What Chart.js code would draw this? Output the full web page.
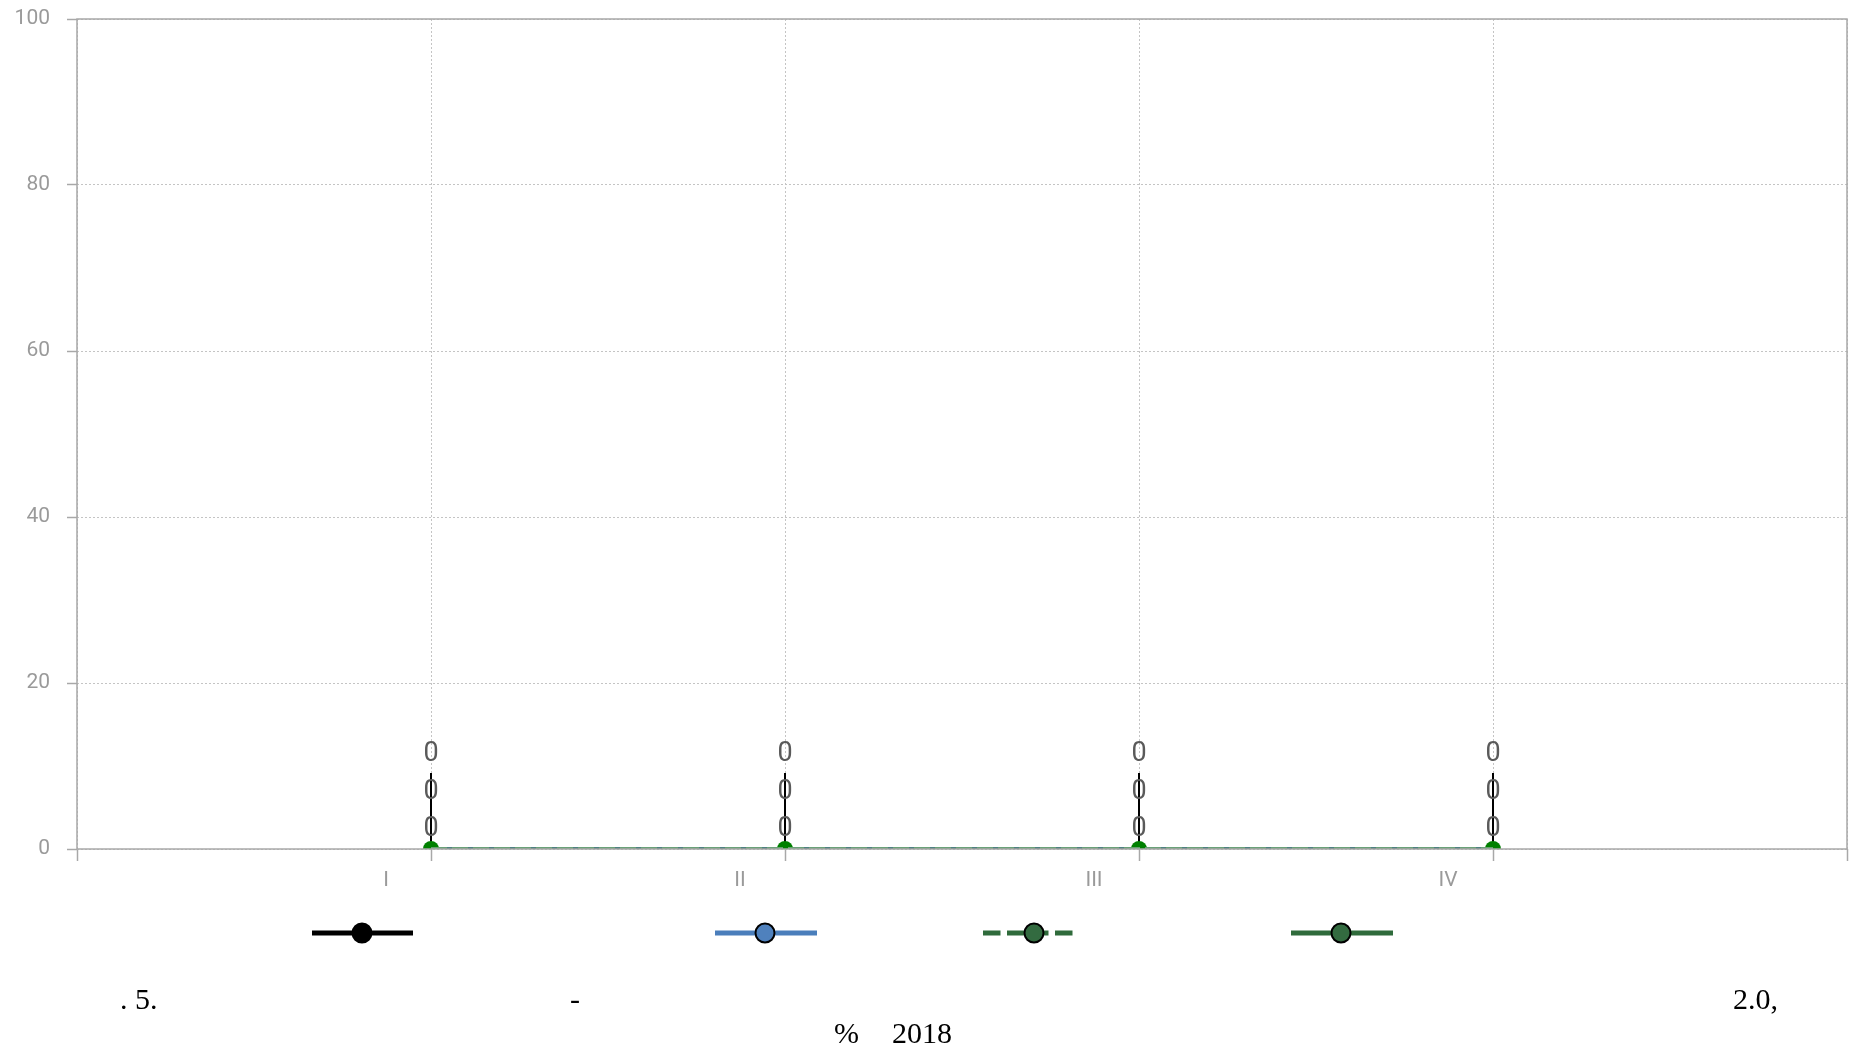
<!DOCTYPE html>
<html>
<head>
<meta charset="utf-8">
<script src="https://cdn.jsdelivr.net/npm/chart.js@4.4.1/dist/chart.umd.min.js"></script>
<style>
  html, body { margin: 0; padding: 0; background: #fff; }
  #wrap { position: relative; width: 1851px; height: 1052px; overflow: hidden; }
  canvas { position: absolute; left: 0; top: 0; }
  .cap { position: absolute; font-family: "Liberation Serif", "Times New Roman", serif; font-size: 30px; line-height: 30px; color: #000; white-space: pre; }
</style>
</head>
<body>
<div id="wrap">
  <canvas id="c" width="1851" height="1052"></canvas>
  <div class="cap" style="left:120px; top:984px;">. 5.</div>
  <div class="cap" style="left:570px; top:984px;">-</div>
  <div class="cap" style="left:1733px; top:984px;">2.0,</div>
  <div class="cap" style="left:834px; top:1018px;">%</div>
  <div class="cap" style="left:892px; top:1018px;">2018</div>
</div>
<script>
// ---- data ----
const categories = ['I', 'II', 'III', 'IV'];
const seriesBlack = [0, 0, 0, 0];
const seriesBlue = [0, 0, 0, 0];
const seriesGreenDashed = [0, 0, 0, 0];
const seriesGreen = [0, 0, 0, 0];
const yTickValues = [0, 20, 40, 60, 80, 100];
const dataLabelText = ['0', '0', '0'];

const toPoints = arr => arr.map((v, i) => ({ x: i + 1, y: v }));

// legend styling (legend text glyphs are not rendered in the reference)
const legendItems = [
  { x1: 312, x2: 413, cx: 362, color: '#000000', fill: '#000000', dash: [] },
  { x1: 715, x2: 817, cx: 765, color: '#4a7ebb', fill: '#4f81bd', dash: [] },
  { x1: 983, x2: 1073, cx: 1034, color: '#2f6b3b', fill: '#336b40', dash: [17.5, 6.5] },
  { x1: 1291, x2: 1393, cx: 1341, color: '#2f6b3b', fill: '#336b40', dash: [] }
];
const legendY = 933;

const framePlugin = {
  id: 'frame',
  afterDatasetsDraw(chart) {
    const { ctx, chartArea: a } = chart;
    ctx.save();
    ctx.setLineDash([]);
    ctx.strokeStyle = '#a8a8a8';
    ctx.lineWidth = 1.5;
    ctx.strokeRect(a.left, a.top, a.right - a.left, a.bottom - a.top);
    ctx.restore();
  }
};

const leaderPlugin = {
  id: 'leaders',
  beforeDatasetsDraw(chart) {
    const { ctx } = chart;
    const meta = chart.getDatasetMeta(3);
    ctx.save();
    ctx.strokeStyle = '#000';
    ctx.lineWidth = 2;
    meta.data.forEach(pt => {
      ctx.beginPath();
      ctx.moveTo(pt.x, pt.y);
      ctx.lineTo(pt.x, pt.y - 76);
      ctx.stroke();
    });
    ctx.restore();
  },
  afterDatasetsDraw(chart) {
    const { ctx } = chart;
    ctx.save();
    ctx.font = '27px Roboto, "Noto Sans", sans-serif';
    ctx.fillStyle = '#5a5a5a';
    ctx.textAlign = 'center';
    ctx.textBaseline = 'middle';
    const offsets = [20, 57, 95];
    for (let k = 0; k < 3; k++) {
      const meta = chart.getDatasetMeta(k);
      meta.data.forEach(pt => {
        ctx.fillText(dataLabelText[k], pt.x, pt.y - offsets[k]);
      });
    }
    ctx.restore();
  },
  afterDraw(chart) {
    const { ctx } = chart;
    ctx.save();
    legendItems.forEach(it => {
      ctx.beginPath();
      ctx.setLineDash(it.dash);
      ctx.strokeStyle = it.color;
      ctx.lineWidth = 5;
      ctx.moveTo(it.x1, legendY);
      ctx.lineTo(it.x2, legendY);
      ctx.stroke();
      ctx.setLineDash([]);
      ctx.beginPath();
      ctx.arc(it.cx, legendY, 9.5, 0, Math.PI * 2);
      ctx.fillStyle = it.fill;
      ctx.fill();
      ctx.lineWidth = 2;
      ctx.strokeStyle = '#000';
      ctx.stroke();
    });
    ctx.restore();
  }
};

new Chart(document.getElementById('c'), {
  type: 'line',
  data: {
    datasets: [
      { label: '', data: toPoints(seriesBlack), borderColor: '#000', borderWidth: 2, pointRadius: 0, order: 4 },
      { label: '', data: toPoints(seriesBlue), borderColor: 'rgba(74,126,187,0.8)', borderWidth: 4, pointRadius: 0, order: 3 },
      { label: '', data: toPoints(seriesGreenDashed), borderColor: 'rgba(110,165,120,0.9)', borderDash: [16, 5], borderWidth: 4, pointRadius: 0, order: 1 },
      { label: '', data: toPoints(seriesGreen), borderColor: 'rgba(47,107,59,0.5)', borderWidth: 4, pointRadius: 8, pointBackgroundColor: '#008000', pointBorderWidth: 0, pointBorderColor: '#008000', order: 2 }
    ]
  },
  options: {
    responsive: false,
    animation: false,
    layout: { autoPadding: false, padding: { left: 0, top: 19, right: 4, bottom: 0 } },
    plugins: { legend: { display: false }, tooltip: { enabled: false } },
    scales: {
      x: {
        type: 'linear',
        min: 0,
        max: categories.length + 1,
        afterBuildTicks(scale) {
          const t = [];
          for (let i = 0; i <= categories.length + 1; i++) t.push({ value: i });
          scale.ticks = t;
        },
        afterFit(scale) {
          scale.height = 1052 - 849;
          scale.paddingLeft = 0;
          scale.paddingRight = 0;
        },
        ticks: {
          callback: v => categories[v - 1] || '',
          labelOffset: -45,
          padding: 7,
          maxRotation: 0,
          autoSkip: false,
          color: '#9a9a9a',
          font: { family: 'Roboto, "Noto Sans", sans-serif', size: 21 }
        },
        grid: { color: '#c4c4c4', tickColor: '#a8a8a8', tickLength: 12, tickWidth: 1.5, lineWidth: 1 },
        border: { display: false, dash: [2, 2] }
      },
      y: {
        min: 0,
        max: 100,
        afterBuildTicks(scale) { scale.ticks = yTickValues.map(v => ({ value: v })); },
        afterFit(scale) {
          scale.width = 77;
          scale.paddingTop = 0;
          scale.paddingBottom = 0;
        },
        ticks: {
          padding: 17,
          color: '#9a9a9a',
          font: { family: 'Roboto, "Noto Sans", sans-serif', size: 21 }
        },
        grid: { color: '#c4c4c4', tickColor: '#a8a8a8', tickLength: 10, tickWidth: 1.5, lineWidth: 1 },
        border: { display: false, dash: [2, 2] }
      }
    }
  },
  plugins: [framePlugin, leaderPlugin]
});
</script>
</body>
</html>
